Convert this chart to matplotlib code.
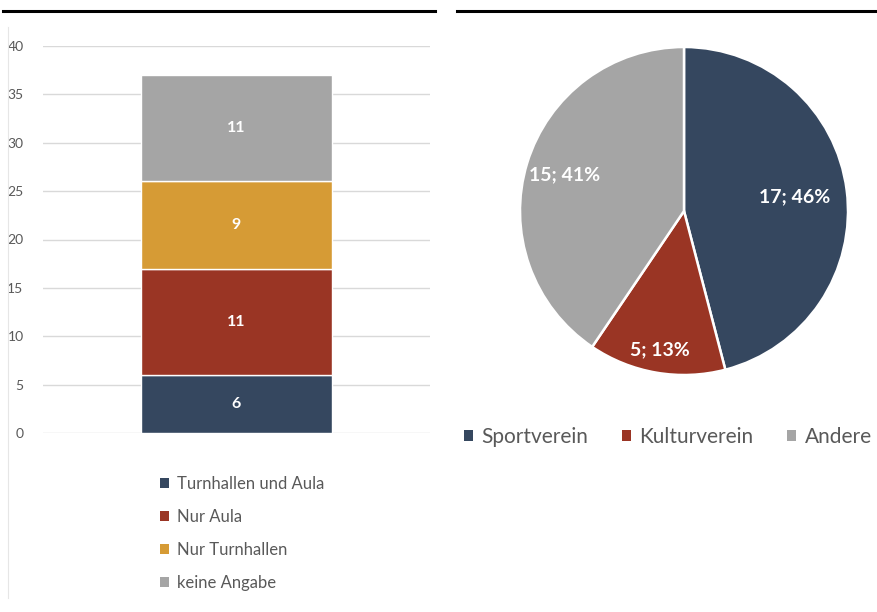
import matplotlib
matplotlib.use("Agg")
import matplotlib.pyplot as plt
from matplotlib.patches import Patch
from matplotlib.lines import Line2D
import numpy as np

plt.rcParams['font.family'] = ['Lato', 'DejaVu Sans']

# Stacked bar: room usage
bar_series = ["Turnhallen und Aula", "Nur Aula", "Nur Turnhallen", "keine Angabe"]
bar_values = [6, 11, 9, 11]
bar_colors = ["#35475F", "#9A3524", "#D69B35", "#A5A5A5"]
y_ticks = [0, 5, 10, 15, 20, 25, 30, 35, 40]

# Pie: club types
pie_labels = ["Sportverein", "Kulturverein", "Andere"]
pie_values = [17, 5, 15]
pie_percents = [46, 13, 41]
pie_colors = ["#35475F", "#9A3524", "#A5A5A5"]

W, H = 878, 612
fig = plt.figure(figsize=(W / 100, H / 100), dpi=100)


def px_rect(x0, y0, x1, y1):
    """Pixel box (top-left origin) -> figure fraction rect."""
    return [x0 / W, 1 - y1 / H, (x1 - x0) / W, (y1 - y0) / H]


text_gray = "#595959"
grid_gray = "#D9D9D9"

# ---- left panel: stacked bar ----
ax = fig.add_axes(px_rect(43, 46, 430, 433))
bottom = 0
handles = []
for name, val, col in zip(bar_series, bar_values, bar_colors):
    ax.bar(0, val, bottom=bottom, width=0.496, color=col,
           edgecolor="white", linewidth=1.0, zorder=3)
    ax.text(0, bottom + val / 2, f"{val}", ha="center", va="center",
            color="white", fontsize=11.5, fontweight="bold", zorder=4)
    handles.append(Patch(facecolor=col, edgecolor="none", label=name))
    bottom += val

ax.set_xlim(-0.5, 0.5)
ax.set_ylim(0, 40)
ax.set_yticks(y_ticks)
ax.set_xticks([])
ax.yaxis.grid(True, color=grid_gray, linewidth=1.0, zorder=0)
ax.tick_params(axis="y", length=0, pad=14, labelsize=10, labelcolor=text_gray)
for s in ax.spines.values():
    s.set_visible(False)

fig.legend(handles=handles, loc="upper left",
           bbox_to_anchor=(145 / W, 1 - 461 / H), frameon=False,
           fontsize=12, labelcolor=text_gray, handlelength=0.55,
           handleheight=0.55, handletextpad=0.45, labelspacing=1.02)

# ---- right panel: pie ----
cx, cy, r = 684, 211, 164
pax = fig.add_axes(px_rect(cx - r, cy - r, cx + r, cy + r))
wedges, _ = pax.pie(pie_values, colors=pie_colors, startangle=90,
                    counterclock=False,
                    wedgeprops=dict(edgecolor="white", linewidth=1.8))
pax.set_xlim(-1, 1)
pax.set_ylim(-1, 1)
pax.set_aspect("equal")
pax.axis("off")

label_radius = [0.68, 0.86, 0.76]
for w, v, p, lr in zip(wedges, pie_values, pie_percents, label_radius):
    mid = np.deg2rad((w.theta1 + w.theta2) / 2)
    pax.text(lr * np.cos(mid), lr * np.sin(mid), f"{v}; {p}%",
             ha="center", va="center", color="white", fontsize=14,
             fontweight="bold")

pie_handles = [Patch(facecolor=c, edgecolor="none", label=l)
               for l, c in zip(pie_labels, pie_colors)]
fig.legend(handles=pie_handles, loc="center left",
           bbox_to_anchor=(445 / W, 1 - 437 / H), ncol=3, frameon=False,
           fontsize=15, labelcolor=text_gray, handlelength=0.45,
           handleheight=0.45, handletextpad=0.4, columnspacing=1.6)

# ---- frame decorations ----
fig.add_artist(Line2D([3 / W, 435 / W], [1 - 11 / H, 1 - 11 / H],
                      color="black", linewidth=2.2))
fig.add_artist(Line2D([457 / W, 1.0], [1 - 11 / H, 1 - 11 / H],
                      color="black", linewidth=2.2))
fig.add_artist(Line2D([8 / W, 8 / W], [1 - 27 / H, 1 - 598 / H],
                      color="#E6E6E6", linewidth=0.8))

fig.savefig("out.png", dpi=100)
